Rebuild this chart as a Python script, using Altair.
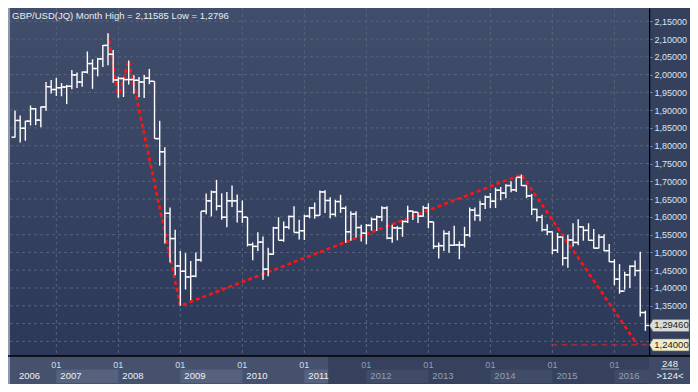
import altair as alt
import pandas as pd

# ---------------- data (monthly GBP/USD bars, May 2006 .. Jul 2016) ----------------
opens = [1.8240, 1.8710, 1.8490, 1.8690, 1.9040, 1.8720, 1.9090, 1.9660,
         1.9580, 1.9630, 1.9650, 1.9670, 1.9990, 1.9790, 2.0070, 2.0310, 2.0170, 2.0440, 2.0820, 2.0570,
         1.9850, 1.9890, 1.9860, 1.9860, 1.9840, 1.9790, 1.9900, 1.9810, 1.8200, 1.7830, 1.6100, 1.5390,
         1.4620, 1.4470, 1.4310, 1.4330, 1.4790, 1.6160, 1.6450, 1.6700, 1.6300, 1.5990, 1.6450, 1.6450,
         1.6150, 1.5990, 1.5220, 1.5170, 1.5290, 1.4530, 1.4950, 1.5690, 1.5340, 1.5710, 1.6010, 1.5560,
         1.5610, 1.6020, 1.6250, 1.6040, 1.6700, 1.6460, 1.6070, 1.6430, 1.6240, 1.5580, 1.6080, 1.5700,
         1.5540, 1.5760, 1.5930, 1.6000, 1.6250, 1.5400, 1.5690, 1.5680, 1.5870, 1.6160, 1.6130, 1.6020,
         1.6250, 1.5860, 1.5170, 1.5190, 1.5530, 1.5200, 1.5210, 1.5210, 1.5490, 1.6190, 1.6040, 1.6360,
         1.6560, 1.6440, 1.6750, 1.6670, 1.6880, 1.6760, 1.7110, 1.6880, 1.6590, 1.6210, 1.5990, 1.5640,
         1.5580, 1.5060, 1.5430, 1.4840, 1.5350, 1.5280, 1.5720, 1.5620, 1.5340, 1.5120, 1.5430, 1.5050,
         1.4740, 1.4250, 1.3910, 1.4370, 1.4610, 1.4490, 1.3310]
highs = [1.8990, 1.8850, 1.8700, 1.9130, 1.9060, 1.9100, 1.9790, 1.9850,
         1.9910, 1.9760, 1.9710, 2.0130, 2.0060, 2.0090, 2.0650, 2.0430, 2.0470, 2.0830, 2.1160, 2.0690,
         1.9940, 1.9920, 2.0395, 1.9980, 1.9930, 1.9990, 2.0160, 1.9810, 1.8700, 1.7960, 1.6260, 1.5640,
         1.5040, 1.4980, 1.4760, 1.5000, 1.6160, 1.6660, 1.6740, 1.7040, 1.6660, 1.6700, 1.6880, 1.6630,
         1.6460, 1.5990, 1.5280, 1.5570, 1.5450, 1.5130, 1.5720, 1.5990, 1.5870, 1.6040, 1.6300, 1.5920,
         1.6060, 1.6280, 1.6400, 1.6740, 1.6750, 1.6550, 1.6480, 1.6620, 1.6300, 1.6160, 1.6160, 1.5780,
         1.5800, 1.5980, 1.6040, 1.6300, 1.6300, 1.5780, 1.5740, 1.5900, 1.6310, 1.6180, 1.6130, 1.6310,
         1.6380, 1.5860, 1.5280, 1.5620, 1.5600, 1.5750, 1.5310, 1.5720, 1.6260, 1.6260, 1.6450, 1.6600,
         1.6670, 1.6820, 1.6840, 1.6920, 1.7000, 1.7110, 1.7190, 1.6880, 1.6640, 1.6230, 1.6060, 1.5790,
         1.5590, 1.5550, 1.5450, 1.5500, 1.5820, 1.5930, 1.5730, 1.5820, 1.5660, 1.5510, 1.5510, 1.5240,
         1.4810, 1.4670, 1.4460, 1.4640, 1.4770, 1.5020, 1.3360]
lows = [1.8230, 1.8090, 1.8140, 1.8570, 1.8580, 1.8520, 1.8980, 1.9470,
        1.9400, 1.9390, 1.9170, 1.9590, 1.9620, 1.9660, 2.0030, 1.9600, 1.9950, 2.0210, 2.0260, 1.9770,
        1.9350, 1.9370, 1.9720, 1.9460, 1.9360, 1.9340, 1.9730, 1.8200, 1.7440, 1.5250, 1.4720, 1.4360,
        1.3500, 1.3960, 1.3660, 1.4300, 1.4740, 1.6070, 1.6010, 1.6180, 1.5920, 1.5710, 1.6280, 1.5840,
        1.5830, 1.5170, 1.4780, 1.5040, 1.4230, 1.4330, 1.4930, 1.5340, 1.5300, 1.5650, 1.5560, 1.5360,
        1.5350, 1.5960, 1.5950, 1.6040, 1.6110, 1.5960, 1.6010, 1.6110, 1.5270, 1.5330, 1.5420, 1.5310,
        1.5230, 1.5610, 1.5600, 1.5880, 1.5370, 1.5270, 1.5340, 1.5440, 1.5830, 1.5910, 1.5830, 1.6000,
        1.5680, 1.5100, 1.4830, 1.5040, 1.4990, 1.5180, 1.4810, 1.5140, 1.5430, 1.5890, 1.5880, 1.6220,
        1.6250, 1.6250, 1.6470, 1.6520, 1.6690, 1.6700, 1.6870, 1.6530, 1.6050, 1.5870, 1.5590, 1.5480,
        1.4950, 1.4990, 1.4630, 1.4570, 1.5170, 1.5200, 1.5330, 1.5330, 1.5110, 1.5110, 1.5030, 1.4730,
        1.4080, 1.3840, 1.3950, 1.4000, 1.4330, 1.3200, 1.2796]
closes = [1.8710, 1.8490, 1.8690, 1.9040, 1.8720, 1.9090, 1.9660, 1.9580,
          1.9630, 1.9650, 1.9670, 1.9990, 1.9790, 2.0070, 2.0310, 2.0170, 2.0440, 2.0820, 2.0570, 1.9850,
          1.9890, 1.9860, 1.9860, 1.9840, 1.9790, 1.9900, 1.9810, 1.8200, 1.7830, 1.6100, 1.5390, 1.4620,
          1.4470, 1.4310, 1.4330, 1.4790, 1.6160, 1.6450, 1.6700, 1.6300, 1.5990, 1.6450, 1.6450, 1.6150,
          1.5990, 1.5220, 1.5170, 1.5290, 1.4530, 1.4950, 1.5690, 1.5340, 1.5710, 1.6010, 1.5560, 1.5610,
          1.6020, 1.6250, 1.6040, 1.6700, 1.6460, 1.6070, 1.6430, 1.6240, 1.5580, 1.6080, 1.5700, 1.5540,
          1.5760, 1.5930, 1.6000, 1.6250, 1.5400, 1.5690, 1.5680, 1.5870, 1.6160, 1.6130, 1.6020, 1.6250,
          1.5860, 1.5170, 1.5190, 1.5530, 1.5200, 1.5210, 1.5210, 1.5490, 1.6190, 1.6040, 1.6360, 1.6560,
          1.6440, 1.6750, 1.6670, 1.6880, 1.6760, 1.7110, 1.6880, 1.6590, 1.6210, 1.5990, 1.5640, 1.5580,
          1.5060, 1.5430, 1.4840, 1.5350, 1.5280, 1.5720, 1.5620, 1.5340, 1.5120, 1.5430, 1.5050, 1.4740,
          1.4250, 1.3910, 1.4370, 1.4610, 1.4490, 1.3310, 1.2946]

years = ["2006", "2007", "2008", "2009", "2010", "2011", "2012", "2013", "2014", "2015", "2016"]
year_start = [0, 8, 20, 32, 44, 56, 68, 80, 92, 104, 116]      # bar index of each year's first bar shown
jan_idx = [8, 20, 32, 44, 56, 68, 80, 92, 104, 116]
jan_label = ["01"] * len(jan_idx)

y_ticks = [1.25, 1.30, 1.35, 1.40, 1.45, 1.50, 1.55, 1.60, 1.65, 1.70,
           1.75, 1.80, 1.85, 1.90, 1.95, 2.00, 2.05, 2.10, 2.15]
hidden_label = 1.30   # fully covered by the last-price tag in the original

zz_idx = [18, 20, 22, 32, 98, 120.4]
zz_val = [2.11585, 1.9350, 2.0395, 1.3500, 1.7190, 1.2420]

target_level = [1.24]
target_from = [103.8]

tag_price = [1.2946, 1.24]
tag_text = ["1,29460", "1,24000"]
tag_fill = ["#d8dbd6", "#f2ebc6"]

title_txt = "GBP/USD(JQ) Month High = 2,11585 Low = 1,2796"
corner_top = "248"
corner_bottom = ">124<"

# ---------------- layout ----------------
W, H = 639, 348
X_DOM = [-0.97, 122.7]
Y_DOM = [1.2088, 2.1872]
SPLIT = 60.6        # where the bottom band changes shade
FONT = "Liberation Sans"
GRID = "#56637f"

xs = alt.Scale(domain=X_DOM, nice=False, zero=False)
ys = alt.Scale(domain=Y_DOM, nice=False, zero=False)

one = pd.DataFrame({"k": [0]})
bars = pd.DataFrame({"i": list(range(len(opens))), "o": opens, "h": highs, "l": lows, "c": closes})

yaxis = alt.Axis(orient="right", values=y_ticks,
                 labelExpr=f"abs(datum.value - {hidden_label}) < 0.001 ? '' : "
                           "replace(format(datum.value, '.5f'), '.', ',')",
                 grid=False, domainColor="#000000", domainWidth=1.5,
                 tickColor="#6d95cf", tickSize=3, labelColor="#dfe5ee",
                 labelFont=FONT, labelFontSize=9, labelPadding=2, title=None,
                 labelOverlap=False, labelBaseline="middle")

def grad(c0, c1):
    return alt.Gradient(gradient="linear",
                        stops=[alt.GradientStop(color=c0, offset=0),
                               alt.GradientStop(color=c1, offset=1)],
                        x1=0, x2=0, y1=0, y2=1)

bg = alt.Chart(one).mark_rect(fill=grad("#414e6b", "#2c3858")).encode(
    x=alt.value(0), x2=alt.value(W), y=alt.value(0), y2=alt.value(H))
left_strip = alt.Chart(one).mark_rect(fill="#8f99ab").encode(
    x=alt.value(-2), x2=alt.value(0), y=alt.value(0), y2=alt.value(H + 28))

band = pd.DataFrame({"a": [X_DOM[0], SPLIT], "b": [SPLIT, X_DOM[1]], "f": ["#46526d", "#36425d"]})
band_l = alt.Chart(band).mark_rect().encode(
    x=alt.X("a:Q", scale=xs, axis=None), x2="b:Q",
    y=alt.value(H), y2=alt.value(H + 28), fill=alt.Fill("f:N", scale=None))

boxes = pd.DataFrame({"a": [8, 32, 56, 68, 92, 116], "b": [20, 44, SPLIT, 80, 104, X_DOM[1]],
                      "f": ["#56627d", "#56627d", "#56627d", "#3f4b67", "#3f4b67", "#3f4b67"]})
box_l = alt.Chart(boxes).mark_rect().encode(
    x=alt.X("a:Q", scale=xs, axis=None), x2="b:Q",
    y=alt.value(H + 13.5), y2=alt.value(H + 27), fill=alt.Fill("f:N", scale=None))

corner = alt.Chart(one).mark_rect(fill="#3e4a66").encode(
    x=alt.value(W), x2=alt.value(W + 41), y=alt.value(H), y2=alt.value(H + 28))

hgrid = alt.Chart(pd.DataFrame({"v": y_ticks})).mark_rule(
    color=GRID, strokeDash=[3, 3], strokeWidth=1).encode(
    y=alt.Y("v:Q", scale=ys, axis=yaxis), x=alt.value(0), x2=alt.value(W))
vgrid = alt.Chart(pd.DataFrame({"j": jan_idx})).mark_rule(
    color=GRID, strokeDash=[3, 3], strokeWidth=1).encode(
    x=alt.X("j:Q", scale=xs, axis=None), y=alt.value(0), y2=alt.value(H))

X = alt.X("i:Q", scale=xs, axis=None)
hl = alt.Chart(bars).mark_rule(color="#ffffff", strokeWidth=1.4).encode(
    x=X, y=alt.Y("l:Q", scale=ys, axis=yaxis), y2="h:Q")
op = alt.Chart(bars).mark_rule(color="#ffffff", strokeWidth=1.4, xOffset=-3.5).encode(
    x=X, x2="i:Q", y=alt.Y("o:Q", scale=ys, axis=yaxis))
cl = alt.Chart(bars).mark_rule(color="#ffffff", strokeWidth=1.4, x2Offset=3.5).encode(
    x=X, x2="i:Q", y=alt.Y("c:Q", scale=ys, axis=yaxis))

zz = alt.Chart(pd.DataFrame({"zi": zz_idx, "zv": zz_val})).mark_line(
    color="#ff1414", strokeWidth=2.6, strokeDash=[4, 3]).encode(
    x=alt.X("zi:Q", scale=xs, axis=None), y=alt.Y("zv:Q", scale=ys, axis=yaxis))

tgt = alt.Chart(pd.DataFrame({"p": target_level, "a": target_from, "b": [X_DOM[1]]})).mark_rule(
    color="#e52525", strokeDash=[6, 4], strokeWidth=1).encode(
    x=alt.X("a:Q", scale=xs, axis=None), x2="b:Q", y=alt.Y("p:Q", scale=ys, axis=yaxis))

bottom_line = alt.Chart(one).mark_rule(color="#000000", strokeWidth=1.5).encode(
    x=alt.value(-2), x2=alt.value(W + 41), y=alt.value(H))

title = alt.Chart(one).mark_text(align="left", baseline="middle", font=FONT, fontSize=9.5,
                                 color="#e8ecf2").encode(
    x=alt.value(2), y=alt.value(8), text=alt.value(title_txt))

jan_df = pd.DataFrame({"j": jan_idx, "t": jan_label,
                       "c": ["#d6dce6" if j < SPLIT else "#939cae" for j in jan_idx]})
jan_txt = alt.Chart(jan_df).mark_text(align="center", baseline="middle", font=FONT, fontSize=9).encode(
    x=alt.X("j:Q", scale=xs, axis=None), y=alt.value(H + 8.5), text="t:N",
    color=alt.Color("c:N", scale=None))

yr_df = pd.DataFrame({"s": year_start, "t": years,
                      "c": ["#eef1f5" if s < SPLIT else "#969fb0" for s in year_start]})
yr_txt = alt.Chart(yr_df).mark_text(align="left", baseline="middle", font=FONT, fontSize=9.5, dx=4).encode(
    x=alt.X("s:Q", scale=xs, axis=None), y=alt.value(H + 20), text="t:N",
    color=alt.Color("c:N", scale=None))

c_top = alt.Chart(one).mark_text(align="center", baseline="middle", font=FONT, fontSize=9.5,
                                 color="#eef1f5").encode(
    x=alt.value(W + 21), y=alt.value(H + 7.5), text=alt.value(corner_top))
c_bot = alt.Chart(one).mark_text(align="center", baseline="middle", font=FONT, fontSize=9.5,
                                 color="#eef1f5").encode(
    x=alt.value(W + 21), y=alt.value(H + 20), text=alt.value(corner_bottom))
c_sep = alt.Chart(one).mark_rule(color="#c5ccd8", strokeWidth=1).encode(
    x=alt.value(W + 12), x2=alt.value(W + 30), y=alt.value(H + 13))

tags = pd.DataFrame({"p": tag_price, "t": tag_text, "f": tag_fill})
tag_shape = "M-2.15,0L-1.8,-0.6L1.8,-0.6L1.8,0.6L-1.8,0.6Z"
tag_box = alt.Chart(tags).mark_point(shape=tag_shape, size=400, filled=True, opacity=1,
                                     stroke="#707680", strokeWidth=0.6).encode(
    x=alt.value(W + 22), y=alt.Y("p:Q", scale=ys, axis=yaxis), fill=alt.Fill("f:N", scale=None))
tag_txt = alt.Chart(tags).mark_text(align="center", baseline="middle", font=FONT, fontSize=9.5,
                                    color="#1b1b1b").encode(
    x=alt.value(W + 22.5), y=alt.Y("p:Q", scale=ys, axis=yaxis), text="t:N")

chart = alt.layer(
    bg, left_strip, band_l, box_l, corner,
    hgrid, vgrid, zz, tgt, hl, op, cl,
    bottom_line, title, jan_txt, yr_txt, c_top, c_bot, c_sep, tag_box, tag_txt
).properties(
    width=W, height=H,
    autosize=alt.AutoSizeParams(type="none"),
    padding={"left": 2, "top": 0, "right": 41, "bottom": 28},
    background="#34405c"
).configure_view(stroke=None)

chart.save("out.html", embed_options={"renderer": "svg", "actions": False})
